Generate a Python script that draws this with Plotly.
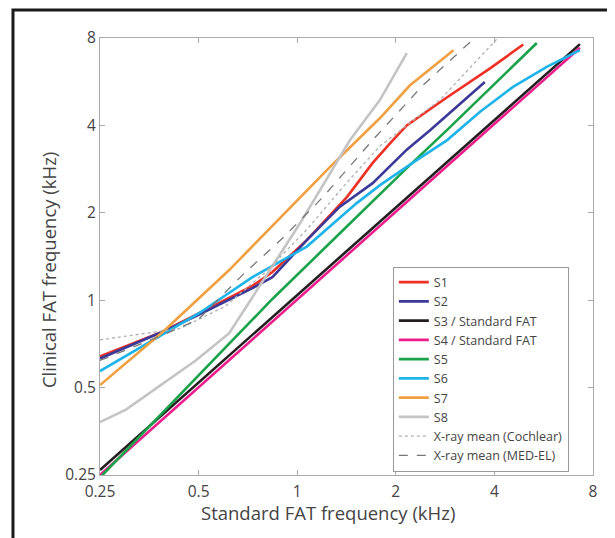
import plotly.graph_objects as go

# Standard FAT frequency (kHz) -> Clinical FAT frequency (kHz)
s1_x = [0.25, 0.39, 0.5, 0.73, 0.84, 1.07, 1.42, 1.7, 1.96, 2.16, 2.87, 3.89, 4.9]
s1_y = [0.64, 0.78, 0.9, 1.12, 1.25, 1.61, 2.27, 2.97, 3.56, 4.0, 5.0, 6.3, 7.6]

s2_x = [0.25, 0.39, 0.5, 0.73, 0.84, 1.07, 1.35, 1.7, 2.16, 2.55, 3.74]
s2_y = [0.63, 0.78, 0.89, 1.1, 1.2, 1.61, 2.1, 2.53, 3.3, 3.86, 5.64]

s3_x = [0.25, 7.3]
s3_y = [0.26, 7.62]

s4_x = [0.25, 7.3]
s4_y = [0.25, 7.4]

s5_x = [0.25, 0.84, 1.35, 2.16, 2.87, 5.39]
s5_y = [0.245, 1.01, 1.7, 2.85, 3.86, 7.69]

s6_x = [0.25, 0.5, 0.73, 1.07, 1.52, 1.79, 2.25, 2.87, 3.61, 4.56, 5.78, 7.3]
s6_y = [0.57, 0.9, 1.2, 1.53, 2.16, 2.49, 2.97, 3.56, 4.45, 5.43, 6.36, 7.27]

s7_x = [0.25, 0.39, 0.62, 1.26, 1.79, 2.21, 3.0]
s7_y = [0.51, 0.78, 1.27, 2.88, 4.24, 5.5, 7.26]

s8_x = [0.25, 0.3, 0.49, 0.62, 0.72, 1.02, 1.45, 1.79, 2.16]
s8_y = [0.38, 0.42, 0.62, 0.77, 1.0, 1.84, 3.56, 4.9, 7.1]

coch_x = [0.25, 0.44, 0.6, 0.8, 1.07, 1.4, 1.79, 2.73, 4.1]
coch_y = [0.73, 0.8, 0.95, 1.25, 1.75, 2.5, 3.4, 4.9, 8.0]

medel_x = [0.25, 0.39, 0.5, 0.68, 0.91, 1.2, 1.7, 2.42, 3.44]
medel_y = [0.62, 0.76, 0.86, 1.22, 1.65, 2.27, 3.56, 5.5, 7.9]

tick_vals = [0.25, 0.5, 1, 2, 4, 8]
tick_text = ["0.25", "0.5", "1", "2", "4", "8"]

x_title = "Standard FAT frequency (kHz)"
y_title = "Clinical FAT frequency (kHz)"

series = [
    ("S1", s1_x, s1_y, "#ee3124", "solid", 2.6),
    ("S2", s2_x, s2_y, "#3b3a98", "solid", 2.6),
    ("S3 / Standard FAT", s3_x, s3_y, "#231f20", "solid", 2.6),
    ("S4 / Standard FAT", s4_x, s4_y, "#ec1e8c", "solid", 2.6),
    ("S5", s5_x, s5_y, "#1aa34a", "solid", 2.6),
    ("S6", s6_x, s6_y, "#1eb4ea", "solid", 2.6),
    ("S7", s7_x, s7_y, "#f0a040", "solid", 2.6),
    ("S8", s8_x, s8_y, "#c4c4c4", "solid", 2.6),
    ("X-ray mean (Cochlear)", coch_x, coch_y, "#b0b0b0", "dot", 1.3),
    ("X-ray mean (MED-EL)", medel_x, medel_y, "#777777", "dash", 1.3),
]

fig = go.Figure()
for name, xs, ys, col, dash, w in series:
    fig.add_trace(go.Scatter(x=xs, y=ys, mode="lines", name=name,
                             line=dict(color=col, width=w, dash=dash)))

axis_common = dict(
    type="log",
    tickvals=tick_vals,
    ticktext=tick_text,
    showgrid=False,
    zeroline=False,
    showline=True,
    linecolor="#aaaaaa",
    linewidth=1,
    mirror="ticks",
    ticks="inside",
    ticklen=5,
    tickcolor="#aaaaaa",
    automargin=False,
    tickfont=dict(family="Open Sans", size=15.5, color="#444444"),
)

# page is offset by the browser's 8px body margin; figure sized to fit
fig.update_layout(
    template="none",
    width=607, height=530,
    margin=dict(l=92, r=22, t=30, b=63),
    paper_bgcolor="white",
    plot_bgcolor="white",
    font=dict(family="Open Sans", color="#444444"),
    xaxis=dict(range=[-0.60206, 0.90309], ticklabelstandoff=2, **axis_common),
    yaxis=dict(range=[-0.60206, 0.90309], **axis_common),
    legend=dict(x=0.594, y=0.008, xanchor="left", yanchor="bottom",
                bgcolor="white", bordercolor="#999999", borderwidth=1,
                font=dict(family="Open Sans", size=12.5, color="#444444"),
                tracegroupgap=0, itemwidth=30),
    showlegend=True,
    annotations=[
        dict(text=x_title, xref="paper", yref="paper", x=0.4625, y=-0.086,
             xanchor="center", yanchor="middle", showarrow=False,
             font=dict(family="Open Sans", size=18.5, color="#444444")),
        dict(text=y_title, xref="paper", yref="paper", x=-0.1055, y=0.469,
             xanchor="center", yanchor="middle", showarrow=False, textangle=-90,
             font=dict(family="Open Sans", size=18.5, color="#444444")),
    ],
    shapes=[dict(type="rect", xref="paper", yref="paper",
                 x0=-0.1765, x1=1.2, y0=-0.4, y1=1.064,
                 line=dict(color="#1a1a1a", width=3), layer="below")],
)

fig.write_html("out.html")
